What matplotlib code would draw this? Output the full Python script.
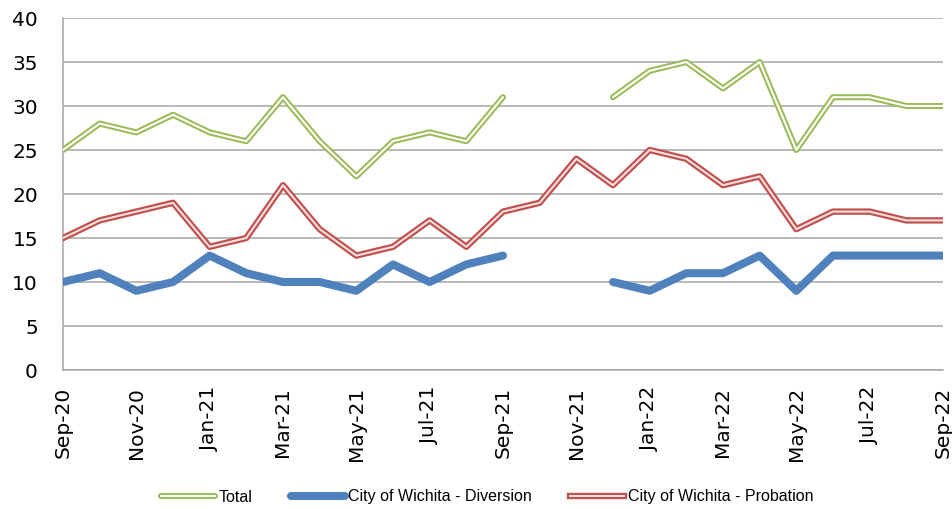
import numpy as np
import matplotlib
matplotlib.use("Agg")
import matplotlib.pyplot as plt
import matplotlib.patheffects as pe

months = ["Sep-20", "Oct-20", "Nov-20", "Dec-20", "Jan-21", "Feb-21", "Mar-21", "Apr-21",
          "May-21", "Jun-21", "Jul-21", "Aug-21", "Sep-21", "Oct-21", "Nov-21", "Dec-21",
          "Jan-22", "Feb-22", "Mar-22", "Apr-22", "May-22", "Jun-22", "Jul-22", "Aug-22", "Sep-22"]
nan = np.nan
total = [25, 28, 27, 29, 27, 26, 31, 26, 22, 26, 27, 26, 31, nan, nan, 31,
         34, 35, 32, 35, 25, 31, 31, 30, 30]
diversion = [10, 11, 9, 10, 13, 11, 10, 10, 9, 12, 10, 12, 13, nan, nan, 10,
             9, 11, 11, 13, 9, 13, 13, 13, 13]
probation = [15, 17, 18, 19, 14, 15, 21, 16, 13, 14, 17, 14, 18, 19, 24, 21,
             25, 24, 21, 22, 16, 18, 18, 17, 17]
yticks = [0, 5, 10, 15, 20, 25, 30, 35, 40]

green = "#9BBB59"
blue = "#4F81BD"
red = "#C0504D"

fig = plt.figure(figsize=(9.53, 5.09), dpi=100)
ax = fig.add_axes([63/953, 1-370/509, (943-63)/953, (370-18)/509])

x = np.arange(len(months))
ax.plot(x, total, color="white", lw=1.5, solid_joinstyle="round", solid_capstyle="round",
        path_effects=[pe.Stroke(linewidth=4.4, foreground=green, capstyle="round", joinstyle="round"), pe.Normal()],
        label="Total", zorder=3)
ax.plot(x, diversion, color=blue, lw=5.8, solid_capstyle="round",
        label="City of Wichita - Diversion", zorder=3)
ax.plot(x, probation, color="#F6E0DF", lw=1.5, solid_joinstyle="round",
        path_effects=[pe.Stroke(linewidth=4.6, foreground=red, joinstyle="round"), pe.Normal()],
        label="City of Wichita - Probation", zorder=3)

ax.set_xlim(0, len(months) - 1)
ax.set_ylim(0, 40)
ax.set_yticks(yticks)
ax.set_xticks(x[::2])
ax.set_xticklabels(months[::2], rotation=90, fontsize=14.5)
ax.tick_params(axis="y", labelsize=14.5, length=0, pad=18)
ax.tick_params(axis="x", length=0, pad=12)
ax.grid(axis="y", color="#A6A6A6", lw=1.1)
ax.set_axisbelow(True)
for s in ["top", "right"]:
    ax.spines[s].set_visible(False)
ax.spines["left"].set_color("#A6A6A6")
ax.spines["left"].set_linewidth(1.1)
ax.spines["bottom"].set_color("#A6A6A6")
ax.spines["bottom"].set_linewidth(1.1)

fig.legend(loc="center", bbox_to_anchor=(0.511, 1-497/509), ncol=3, frameon=False,
           prop={"family": "Liberation Sans", "size": 11.5},
           handlelength=3.4, handletextpad=0.2, columnspacing=2.4)

fig.savefig("out.png", dpi=100)
